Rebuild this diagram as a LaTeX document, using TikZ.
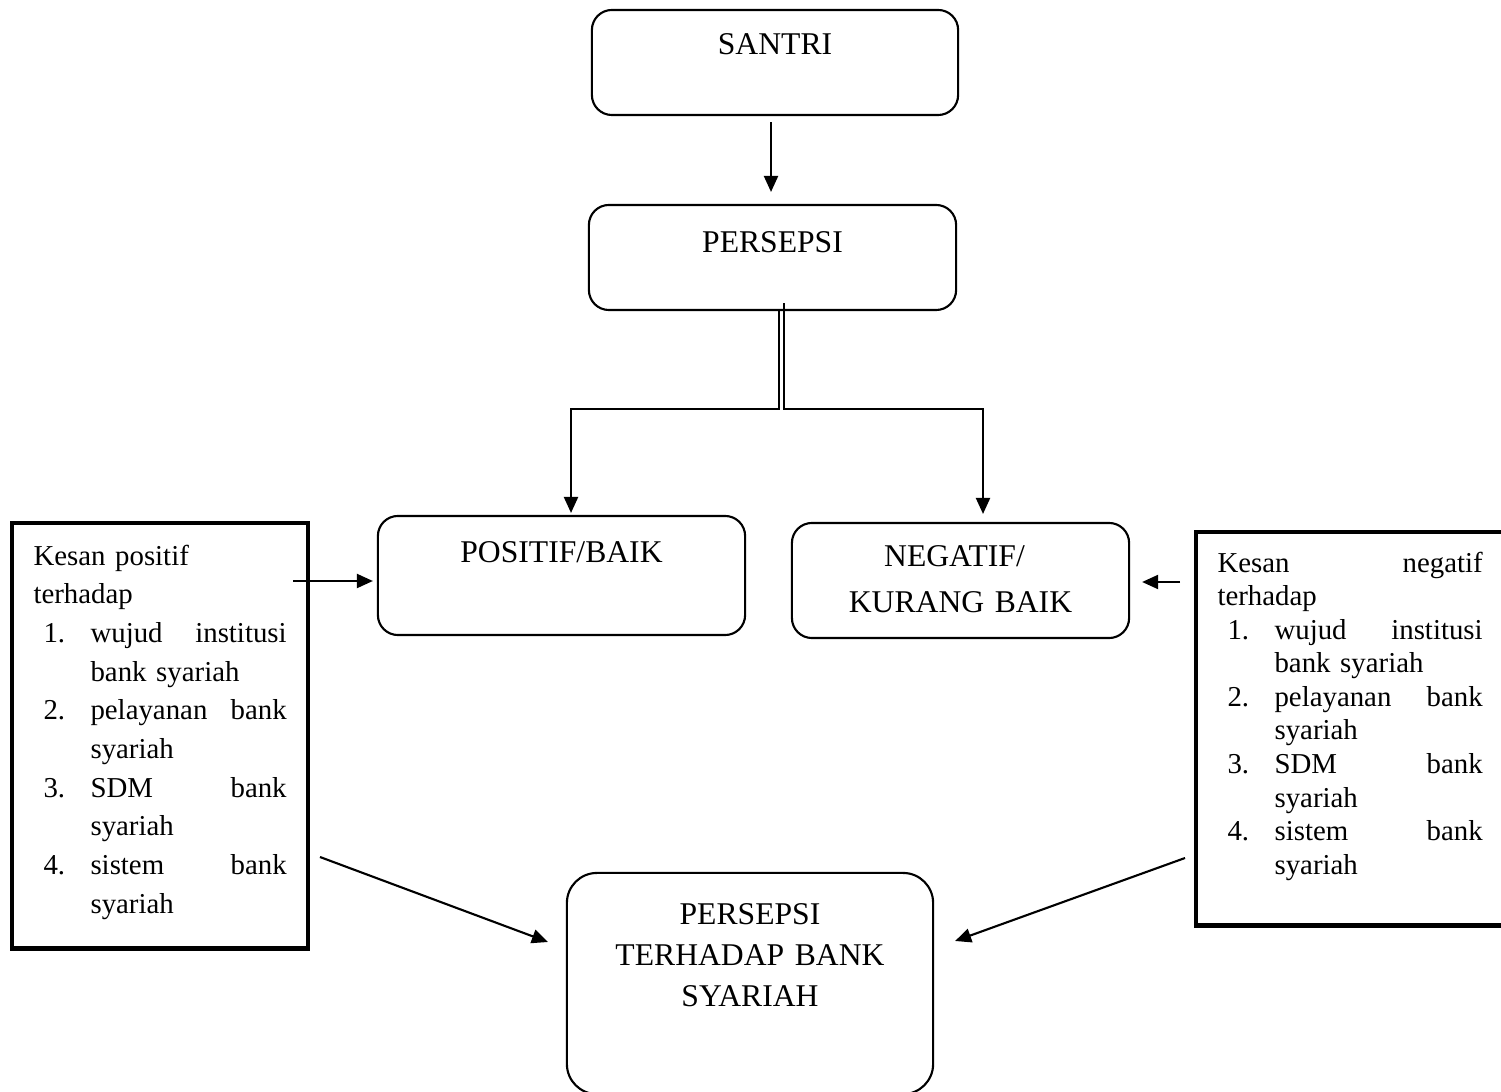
\documentclass[tikz,border=0pt]{standalone}
\usepackage{fontspec}
\setmainfont{Liberation Serif}
\usetikzlibrary{arrows.meta,calc}

% one numbered line of a list box, stretched to the full width
\newcommand{\numrow}[3]{\hspace*{0.1cm}\makebox[0.47cm][l]{#1}#2\hfill#3}
% continuation line of a list item
\newcommand{\controw}[1]{\hspace*{0.57cm}#1}

\begin{document}
\begin{tikzpicture}[x=0.01cm, y=-0.01cm,
    font=\fontsize{9}{10.8}\selectfont,
    rbox/.style={draw, line width=0.6pt, rounded corners=0.2cm, inner sep=0pt, outer sep=0pt, align=center},
    listbox/.style={draw, line width=1.3pt, inner xsep=0.215cm, inner ysep=0pt, outer sep=0pt, align=left, anchor=north west},
    arr/.style={line width=0.6pt, -{Triangle[length=0.16cm, width=0.14cm]}}]

    % Fix the page to the size of the reference
    \useasboundingbox (0,0) rectangle (1501,1092);

    % Rounded boxes of the main flow
    \node[rbox, minimum width=3.66cm, text height=0.45cm, text depth=0.60cm] (santri) at (775,62.5) {SANTRI};
    \node[rbox, minimum width=3.67cm, text height=0.48cm, text depth=0.57cm] (persepsi) at (772.5,257.5) {PERSEPSI};
    \node[rbox, minimum width=3.67cm, text height=0.47cm, text depth=0.72cm] (positif) at (561.5,575.5) {POSITIF/BAIK};
    \node[rbox, text width=3.37cm, text height=0.44cm, text depth=0.71cm, font=\fontsize{9}{12.8}\selectfont] (negatif) at (960.5,580.5) {NEGATIF/\kern0.12cm\\KURANG BAIK};
    \node[rbox, rounded corners=0.3cm, text width=3.66cm, text height=0.52cm, text depth=1.69cm, font=\fontsize{9}{11.66}\selectfont] (hasil) at (750,983.5) {PERSEPSI\\TERHADAP BANK\\SYARIAH};

    % Thick boxes with the lists of impressions
    \node[listbox, text width=2.53cm, text height=0.42cm, text depth=3.83cm, font=\fontsize{8.2}{11}\selectfont] (kesanpos) at (12,523) {%
        Kesan positif\\
        terhadap\\
        \numrow{1.}{wujud}{institusi}\\
        \controw{bank syariah}\\
        \numrow{2.}{pelayanan}{bank}\\
        \controw{syariah}\\
        \numrow{3.}{SDM}{bank}\\
        \controw{syariah}\\
        \numrow{4.}{sistem}{bank}\\
        \controw{syariah}};
    \node[listbox, text width=2.65cm, text height=0.40cm, text depth=3.53cm, font=\fontsize{8.2}{9.55}\selectfont] (kesanneg) at (1196,532) {%
        Kesan\hfill negatif\\
        terhadap\\
        \numrow{1.}{wujud}{institusi}\\
        \controw{bank syariah}\\
        \numrow{2.}{pelayanan}{bank}\\
        \controw{syariah}\\
        \numrow{3.}{SDM}{bank}\\
        \controw{syariah}\\
        \numrow{4.}{sistem}{bank}\\
        \controw{syariah}};

    % SANTRI down to PERSEPSI
    \draw[arr] ($(santri.south)+(-4,7)$) -- ($(santri.south |- persepsi.north)+(-4,-13)$);

    % Split of PERSEPSI into the two branches
    \coordinate (splitL) at (571,409);
    \coordinate (splitR) at (983,409);
    \draw[arr] ($(persepsi.south)+(6.5,0)$) |- (splitL) -- ($(splitL |- positif.north)+(0,-3)$);
    \draw[arr] ($(persepsi.south)+(11.5,-7)$) |- (splitR) -- ($(splitR |- negatif.north)+(0,-9)$);

    % Impressions into the two branches
    \coordinate (fromPos) at (293,581);
    \coordinate (fromNeg) at (1180,582);
    \draw[arr] (fromPos) -- ($(fromPos -| positif.west)+(-5,0)$);
    \draw[arr] (fromNeg) -- ($(fromNeg -| negatif.east)+(13,0)$);

    % Impressions down to the result
    \coordinate (diagPos) at (320,857);
    \coordinate (diagNeg) at (1185,858);
    \draw[arr] (diagPos) -- ($(hasil.west)+(-19,-41.5)$);
    \draw[arr] (diagNeg) -- ($(hasil.east)+(22,-42.5)$);

\end{tikzpicture}
\end{document}
